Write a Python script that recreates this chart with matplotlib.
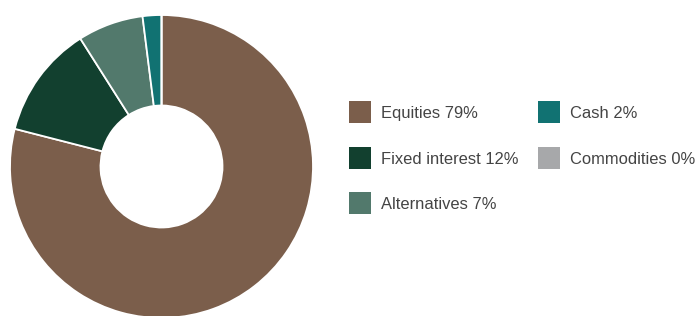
import matplotlib.pyplot as plt
from matplotlib.patches import Rectangle

# Asset allocation
labels = ['Equities', 'Fixed interest', 'Alternatives', 'Cash', 'Commodities']
values = [79, 12, 7, 2, 0]
colors = ['#7b5e4b', '#12402f', '#52796c', '#117272', '#a7a8aa']

W, H = 698, 316
fig = plt.figure(figsize=(W / 100, H / 100), dpi=100)

# donut, centre ~(161.5, 166.5) px from top-left, radius ~151.5 px
cx, cy, r = 161.5, 166.5, 151.5
ax = fig.add_axes([(cx - r) / W, (H - cy - r) / H, 2 * r / W, 2 * r / H])
ax.pie(values, colors=colors, startangle=90, counterclock=False, radius=1,
       wedgeprops=dict(width=1 - 61 / r, edgecolor='white', linewidth=1.3))
ax.set_xlim(-1, 1)
ax.set_ylim(-1, 1)
ax.set_aspect('equal')
ax.axis('off')

# legend, two columns filled top-down
col_x = [349, 538]
row_y = [112, 158, 203]
box = 22
for i, (lab, val, col) in enumerate(zip(labels, values, colors)):
    x = col_x[i // 3]
    y = row_y[i % 3]
    fig.patches.append(Rectangle((x / W, (H - y - box / 2) / H), box / W, box / H,
                                 transform=fig.transFigure, facecolor=col, edgecolor='none'))
    fig.text((x + box + 10) / W, (H - y - 1.5) / H, f'{lab} {val}%', fontsize=11.9,
             family='Liberation Sans', color='#444444', va='center', ha='left')

fig.savefig('out.png', dpi=100)
